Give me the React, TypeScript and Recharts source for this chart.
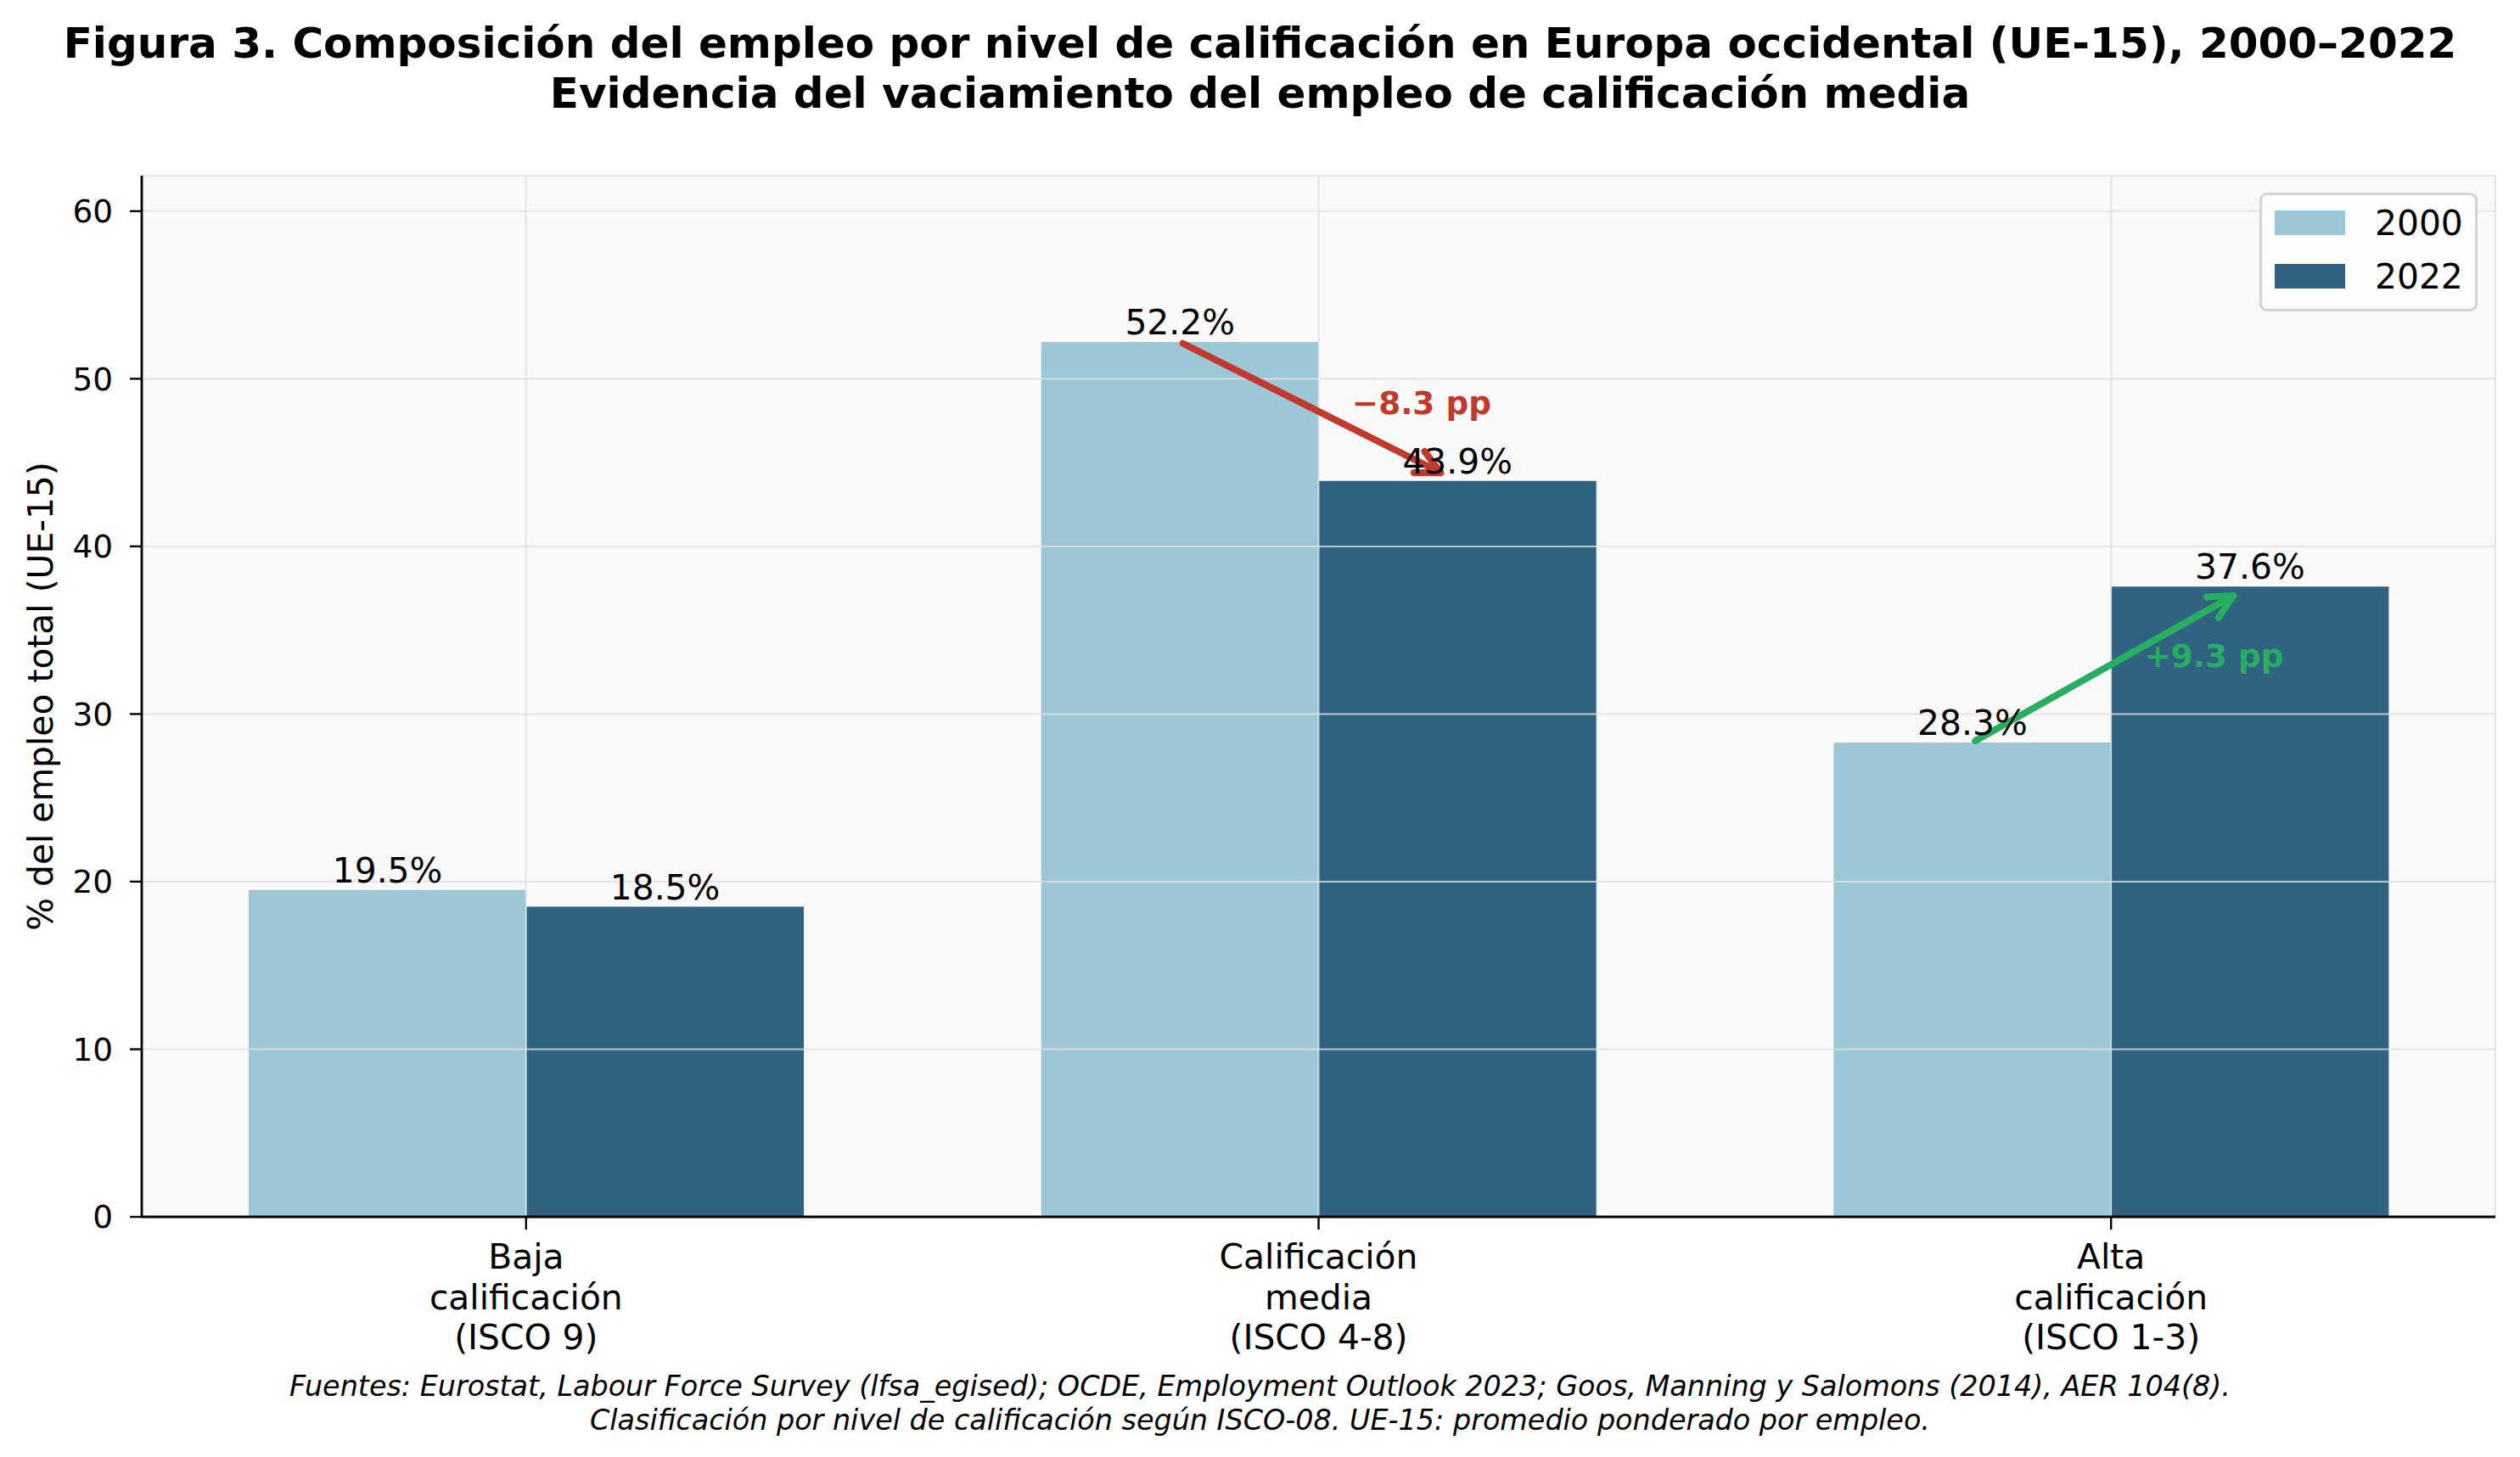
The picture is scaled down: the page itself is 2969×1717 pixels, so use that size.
import React from "react";
import {
  BarChart,
  Bar,
  XAxis,
  YAxis,
  CartesianGrid,
  LabelList,
  ReferenceLine,
  ReferenceDot,
  Legend,
} from "recharts";

// --- data ---
const categories = [
  "Baja\ncalificación\n(ISCO 9)",
  "Calificación\nmedia\n(ISCO 4-8)",
  "Alta\ncalificación\n(ISCO 1-3)",
];
const values2000 = [19.5, 52.2, 28.3];
const values2022 = [18.5, 43.9, 37.6];
const arrowCategories = [1, 2];
const yTicks = [0, 10, 20, 30, 40, 50, 60];

const title = [
  "Figura 3. Composición del empleo por nivel de calificación en Europa occidental (UE-15), 2000–2022",
  "Evidencia del vaciamiento del empleo de calificación media",
];
const footer = [
  "Fuentes: Eurostat, Labour Force Survey (lfsa_egised); OCDE, Employment Outlook 2023; Goos, Manning y Salomons (2014), AER 104(8).",
  "Clasificación por nivel de calificación según ISCO-08. UE-15: promedio ponderado por empleo.",
];

const FONT = "'DejaVu Sans', sans-serif";
const W = 2969;
const H = 1717;
const FS = 40.8; // 12pt
const FS_SMALL = 37.4; // 11pt
const LIGHT = "#9bc7d6";
const DARK = "#306282";
const UP = "#27ae60";
const DOWN = "#c0392b";
const BAR_W = 0.35;

const data = categories.map((c, i) => ({
  x: i,
  y2000: values2000[i],
  y2022: values2022[i],
}));

const n = categories.length;
const pad = 0.05 * (n - 1 + 2 * BAR_W);
const xDomain = [-BAR_W - pad, n - 1 + BAR_W + pad];
const yMax = Math.max(...values2000, ...values2022) * 1.19;

const fmt = (v: any) => `${Number(v).toFixed(1)}%`;

const XTick = (props: any) => {
  const { x, y, payload } = props;
  const lines = categories[payload.value]?.split("\n") ?? [];
  return (
    <g>
      {lines.map((l, k) => (
        <text
          key={k}
          x={x}
          y={y + 46 + k * 47.5}
          textAnchor="middle"
          fontFamily={FONT}
          fontSize={FS}
          fill="#000"
        >
          {l}
        </text>
      ))}
    </g>
  );
};

const makeArrow = (color: string) => (props: any) => {
  const { x1, y1, x2, y2 } = props;
  const dx = x2 - x1;
  const dy = y2 - y1;
  const len = Math.hypot(dx, dy) || 1;
  const ux = dx / len;
  const uy = dy / len;
  const sx = x1 + ux * 4;
  const sy = y1 + uy * 4;
  const ex = x2 - ux * 22;
  const ey = y2 - uy * 22;
  const hl = 28;
  const hw = 14;
  const bx = ex - ux * hl;
  const by = ey - uy * hl;
  const pts = `${bx - uy * hw},${by + ux * hw} ${ex},${ey} ${bx + uy * hw},${by - ux * hw}`;
  return (
    <g>
      <line x1={sx} y1={sy} x2={ex} y2={ey} stroke={color} strokeWidth={8} strokeLinecap="round" />
      <polyline points={pts} fill="none" stroke={color} strokeWidth={8} strokeLinecap="round" strokeLinejoin="round" />
    </g>
  );
};

const makeDeltaText = (text: string, color: string) => (props: any) => (
  <text
    x={props.cx}
    y={props.cy}
    textAnchor="middle"
    dominantBaseline="central"
    fontFamily={FONT}
    fontWeight="bold"
    fontSize={FS_SMALL}
    fill={color}
  >
    {text}
  </text>
);

const renderLegend = (props: any) => {
  const items = props.payload || [];
  return (
    <div
      style={{
        position: "relative",
        boxSizing: "border-box",
        width: 257,
        height: 140,
        border: "3px solid #d4d4d4",
        borderRadius: 9,
        background: "rgba(255,255,255,0.8)",
        fontFamily: FONT,
      }}
    >
      {items.map((it: any, k: number) => (
        <div key={k}>
          <div
            style={{
              position: "absolute",
              left: 15,
              top: 18 + k * 63,
              width: 83,
              height: 29,
              background: it.color,
            }}
          />
          <div
            style={{
              position: "absolute",
              left: 133,
              top: 11 + k * 63,
              fontSize: FS,
              lineHeight: "44px",
              color: "#000",
              whiteSpace: "nowrap",
            }}
          >
            {it.value}
          </div>
        </div>
      ))}
    </div>
  );
};

const YLabel = (props: any) => {
  const { viewBox } = props;
  const cx = 48;
  const cy = viewBox.y + viewBox.height / 2;
  return (
    <text
      x={cx}
      y={cy}
      transform={`rotate(-90, ${cx}, ${cy})`}
      textAnchor="middle"
      dominantBaseline="central"
      fontFamily={FONT}
      fontSize={FS}
      fill="#000"
    >
      % del empleo total (UE-15)
    </text>
  );
};

export default function App() {
  return (
    <div style={{ position: "absolute", left: 0, top: 0, width: W, height: H, background: "#fff" }}>
      <div
        style={{
          position: "absolute",
          left: 0,
          top: 22,
          width: W,
          textAlign: "center",
          fontFamily: FONT,
          fontWeight: "bold",
          fontSize: 50,
          lineHeight: "59px",
          color: "#000",
          whiteSpace: "nowrap",
        }}
      >
        {title.map((t, k) => (
          <div key={k}>{t}</div>
        ))}
      </div>
      <BarChart
        width={W}
        height={H}
        data={data}
        margin={{ top: 207, right: 29, bottom: 133, left: 47 }}
        barCategoryGap="15%"
        barGap={0}
      >
        <CartesianGrid fill="#f9f9f9" horizontal={false} vertical={false} stroke="none" />
        <XAxis
          dataKey="x"
          type="number"
          domain={xDomain}
          ticks={[0, 1, 2]}
          allowDataOverflow
          height={150}
          tickSize={15}
          tickMargin={0}
          tick={<XTick />}
          axisLine={{ stroke: "#000", strokeWidth: 2.8 }}
          tickLine={{ stroke: "#000", strokeWidth: 2.4 }}
        />
        <YAxis
          type="number"
          domain={[0, yMax]}
          ticks={yTicks}
          allowDataOverflow
          width={120}
          tickSize={14}
          tickMargin={20}
          tick={{ fill: "#000", fontSize: FS_SMALL, fontFamily: FONT }}
          axisLine={{ stroke: "#000", strokeWidth: 2.8 }}
          tickLine={{ stroke: "#000", strokeWidth: 2.4 }}
          label={<YLabel />}
        />
        <Legend
          layout="horizontal"
          verticalAlign="middle"
          align="center"
          content={renderLegend}
          wrapperStyle={{ left: 2662, top: 227, width: 257, height: 140 }}
        />
        <Bar dataKey="y2000" name="2000" fill={LIGHT} isAnimationActive={false}>
          <LabelList
            dataKey="y2000"
            position="top"
            offset={9}
            formatter={fmt}
            fill="#000"
            fontSize={FS}
            fontFamily={FONT}
          />
        </Bar>
        <Bar dataKey="y2022" name="2022" fill={DARK} isAnimationActive={false}>
          <LabelList
            dataKey="y2022"
            position="top"
            offset={9}
            formatter={fmt}
            fill="#000"
            fontSize={FS}
            fontFamily={FONT}
          />
        </Bar>
        <CartesianGrid
          stroke="#e0e0e0"
          strokeOpacity={0.8}
          strokeWidth={2}
          fill="none"
          zIndex={350}
        />
        {arrowCategories.map((i) => {
          const d = values2022[i] - values2000[i];
          const color = d >= 0 ? UP : DOWN;
          return (
            <ReferenceLine
              key={`a${i}`}
              segment={[
                { x: i - BAR_W / 2, y: values2000[i] },
                { x: i + BAR_W / 2, y: values2022[i] },
              ]}
              shape={makeArrow(color)}
              ifOverflow="visible"
              zIndex={1500}
            />
          );
        })}
        {arrowCategories.map((i) => {
          const d = values2022[i] - values2000[i];
          const color = d >= 0 ? UP : DOWN;
          const text = `${d >= 0 ? "+" : "−"}${Math.abs(d).toFixed(1)} pp`;
          return (
            <ReferenceDot
              key={`t${i}`}
              x={i + 0.13}
              y={(values2000[i] + values2022[i]) / 2 + 0.5}
              r={0}
              shape={makeDeltaText(text, color)}
              ifOverflow="visible"
              zIndex={1600}
            />
          );
        })}
      </BarChart>
      <div
        style={{
          position: "absolute",
          left: 0,
          top: 1614,
          width: W,
          textAlign: "center",
          fontFamily: FONT,
          fontStyle: "italic",
          fontSize: 33.4,
          lineHeight: "40px",
          color: "#000",
          whiteSpace: "nowrap",
        }}
      >
        {footer.map((t, k) => (
          <div key={k}>{t}</div>
        ))}
      </div>
    </div>
  );
}
